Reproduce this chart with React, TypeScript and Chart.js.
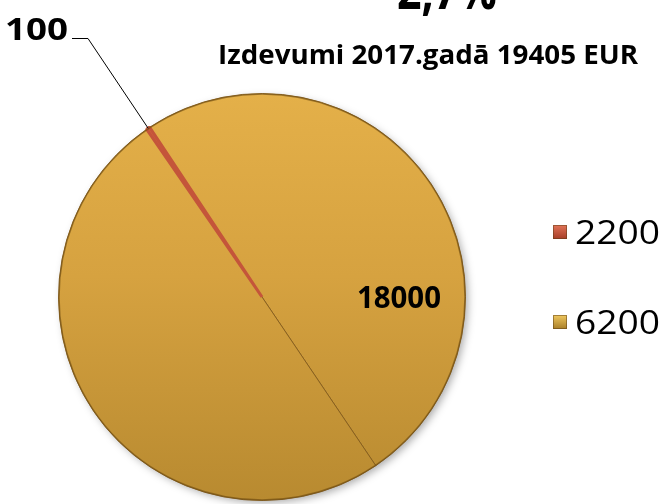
import React, { useEffect, useRef } from "react";
import { Chart, registerables } from "chart.js";

Chart.register(...registerables);

const categories = ["2200", "6200", ""];
const values = [100, 18000, 18000];
const dataLabels = ["100", "18000", ""];
const titleText = "2,7%";
const subtitleText = "Izdevumi 2017.gadā 19405 EUR";
const legendCount = 2;

const RED_TOP = "#DA6241";
const RED_BOT = "#B8432C";
const GOLD_TOP = "#E4B049";
const GOLD_MID = "#D6A240";
const GOLD_BOT = "#B88A30";

const FONT = "'Open Sans', Lato, sans-serif";

function fitText(ctx: CanvasRenderingContext2D, text: string, x: number, y: number, w: number, font: string, align: "left" | "right" | "center") {
  ctx.save();
  ctx.font = font;
  const m = ctx.measureText(text).width;
  const s = w / m;
  ctx.textAlign = "left";
  let x0 = x;
  if (align === "right") x0 = x - w;
  if (align === "center") x0 = x - w / 2;
  ctx.translate(x0, y);
  ctx.scale(s, 1);
  ctx.fillText(text, 0, 0);
  ctx.restore();
}

export default function App() {
  const ref = useRef<HTMLCanvasElement | null>(null);

  useEffect(() => {
    if (!ref.current) return;

    const gradFor = (chart: any, i: number) => {
      const area = chart.chartArea;
      if (!area) return i === 0 ? RED_TOP : GOLD_MID;
      const g = chart.ctx.createLinearGradient(0, area.top, 0, area.bottom);
      if (i === 0) {
        g.addColorStop(0, RED_TOP);
        g.addColorStop(1, RED_BOT);
      } else {
        g.addColorStop(0, GOLD_TOP);
        g.addColorStop(0.45, GOLD_MID);
        g.addColorStop(1, GOLD_BOT);
      }
      return g;
    };

    const decor = {
      id: "decor",
      beforeDatasetsDraw(chart: any) {
        const meta = chart.getDatasetMeta(0);
        const arc: any = meta.data[0];
        if (!arc) return;
        const c = chart.ctx;
        c.save();
        c.shadowColor = "rgba(0,0,0,0.35)";
        c.shadowBlur = 8;
        c.shadowOffsetX = 3;
        c.shadowOffsetY = 3;
        c.fillStyle = GOLD_BOT;
        c.beginPath();
        c.arc(arc.x, arc.y, arc.outerRadius - 1, 0, Math.PI * 2);
        c.fill();
        c.restore();
      },
      afterDatasetsDraw(chart: any) {
        const meta = chart.getDatasetMeta(0);
        const c = chart.ctx;
        const a0: any = meta.data[0];
        if (!a0) return;
        const R = a0.outerRadius;
        c.save();
        a0.draw(c);
        c.restore();

        c.save();
        c.strokeStyle = "rgba(110,75,15,0.6)";
        c.lineWidth = 1.5;
        c.beginPath();
        c.arc(a0.x, a0.y, R - 0.5, 0, Math.PI * 2);
        c.stroke();
        c.restore();

        const mid = (a0.startAngle + a0.endAngle) / 2;
        const px = a0.x + Math.cos(mid) * R;
        const py = a0.y + Math.sin(mid) * R;
        c.save();
        c.strokeStyle = "#000";
        c.lineWidth = 1;
        c.beginPath();
        c.moveTo(px, py);
        c.lineTo(88, 38.5);
        c.lineTo(72, 38.5);
        c.stroke();
        c.fillStyle = "#000";
        c.textBaseline = "alphabetic";
        fitText(c, dataLabels[0], 68, 40, 63, `bold 31px ${FONT}`, "right");

        const a1: any = meta.data[1];
        fitText(c, dataLabels[1], a1.x + R * 0.673, a1.y + 11, 84, `bold 31px ${FONT}`, "center");

        fitText(c, titleText, 447, 9, 100, `bold 54px ${FONT}`, "center");
        fitText(c, subtitleText, 428, 64, 420, `bold 27px ${FONT}`, "center");

        const ly = [232, 322];
        for (let i = 0; i < legendCount; i++) {
          const y = ly[i];
          const g = c.createLinearGradient(0, y - 7, 0, y + 7);
          if (i === 0) {
            g.addColorStop(0, "#E27458");
            g.addColorStop(1, "#A63E28");
          } else {
            g.addColorStop(0, "#F0C860");
            g.addColorStop(1, "#A87E28");
          }
          c.fillStyle = g;
          c.fillRect(553, y - 7, 14, 14);
          c.strokeStyle = "rgba(90,60,20,0.5)";
          c.lineWidth = 1;
          c.strokeRect(553.5, y - 6.5, 13, 13);
          c.fillStyle = "#000";
          fitText(c, categories[i], 575, y + 12, 85, `32px ${FONT}`, "left");
        }
        c.restore();
      },
    };

    const chart = new Chart(ref.current, {
      type: "pie",
      data: {
        labels: categories,
        datasets: [
          {
            data: values,
            backgroundColor: (ctx: any) => gradFor(ctx.chart, ctx.dataIndex),
            borderColor: ["#C4553A", "rgba(130,92,30,0.85)", "rgba(130,92,30,0.85)"],
            borderWidth: [3, 1, 1],
          },
        ],
      },
      options: {
        animation: false,
        responsive: true,
        maintainAspectRatio: false,
        rotation: -34.5,
        layout: { padding: { left: 57, right: 194, top: 92, bottom: 2 } },
        plugins: {
          legend: { display: false },
          title: { display: false },
          tooltip: { enabled: false },
        },
      },
      plugins: [decor],
    });
    return () => chart.destroy();
  }, []);

  return (
    <div style={{ position: "fixed", left: 0, top: 0, width: 661, height: 504, background: "#fff" }}>
      <canvas ref={ref} />
    </div>
  );
}
